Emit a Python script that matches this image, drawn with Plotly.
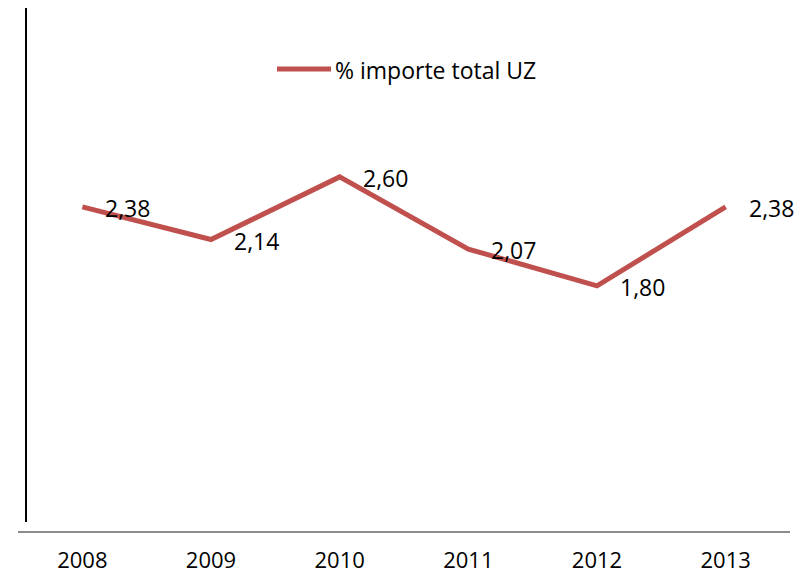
import plotly.graph_objects as go

years = ["2008", "2009", "2010", "2011", "2012", "2013"]
values = [2.38, 2.14, 2.60, 2.07, 1.80, 2.38]
labels = ["2,38", "2,14", "2,60", "2,07", "1,80", "2,38"]
series_name = "% importe total UZ"

W, H = 799, 578
L, R, T, B = 18, 9, 8, 47
color = "#C0504D"
font = "Open Sans, Liberation Sans, sans-serif"
fsize = 23

fig = go.Figure()
fig.add_trace(go.Scatter(
    x=years, y=values, mode="lines", name=series_name,
    line=dict(color=color, width=5), showlegend=False, hoverinfo="skip"))

for i, (v, t) in enumerate(zip(values, labels)):
    fig.add_annotation(x=i, y=v, text=t, showarrow=False, xanchor="left",
                       yanchor="middle", xshift=21, yshift=-1,
                       font=dict(size=fsize, color="#000000", family=font))

# legend drawn manually to match sample length
fig.add_shape(type="line", xref="paper", yref="paper",
              x0=(277 - L) / (W - L - R), x1=(331 - L) / (W - L - R),
              y0=(H - B - 69) / (H - T - B), y1=(H - B - 69) / (H - T - B),
              line=dict(color=color, width=5))
fig.add_annotation(xref="paper", yref="paper",
                   x=(333 - L) / (W - L - R), y=(H - B - 70) / (H - T - B),
                   text=series_name, showarrow=False, xanchor="left", yanchor="middle",
                   font=dict(size=fsize, color="#000000", family=font))

# vertical axis line (separate from x axis, as in reference)
fig.add_shape(type="line", xref="paper", yref="paper",
              x0=(26 - L) / (W - L - R), x1=(26 - L) / (W - L - R),
              y0=(H - B - 522) / (H - T - B), y1=1,
              line=dict(color="#000000", width=2))

fig.update_layout(
    width=W, height=H,
    margin=dict(l=L, r=R, t=T, b=B),
    paper_bgcolor="white", plot_bgcolor="white",
    xaxis=dict(type="category", range=[-0.5, 5.5], showgrid=False, zeroline=False,
               showline=True, linecolor="#8C8C8C", linewidth=2, automargin=False,
               ticks="outside", ticklen=9, tickcolor="rgba(0,0,0,0)",
               tickfont=dict(size=22, color="#000000", family=font)),
    yaxis=dict(range=[0, 3.84], showgrid=False, zeroline=False, showline=False,
               showticklabels=False, ticks="", automargin=False),
)

fig.write_html("out.html")
